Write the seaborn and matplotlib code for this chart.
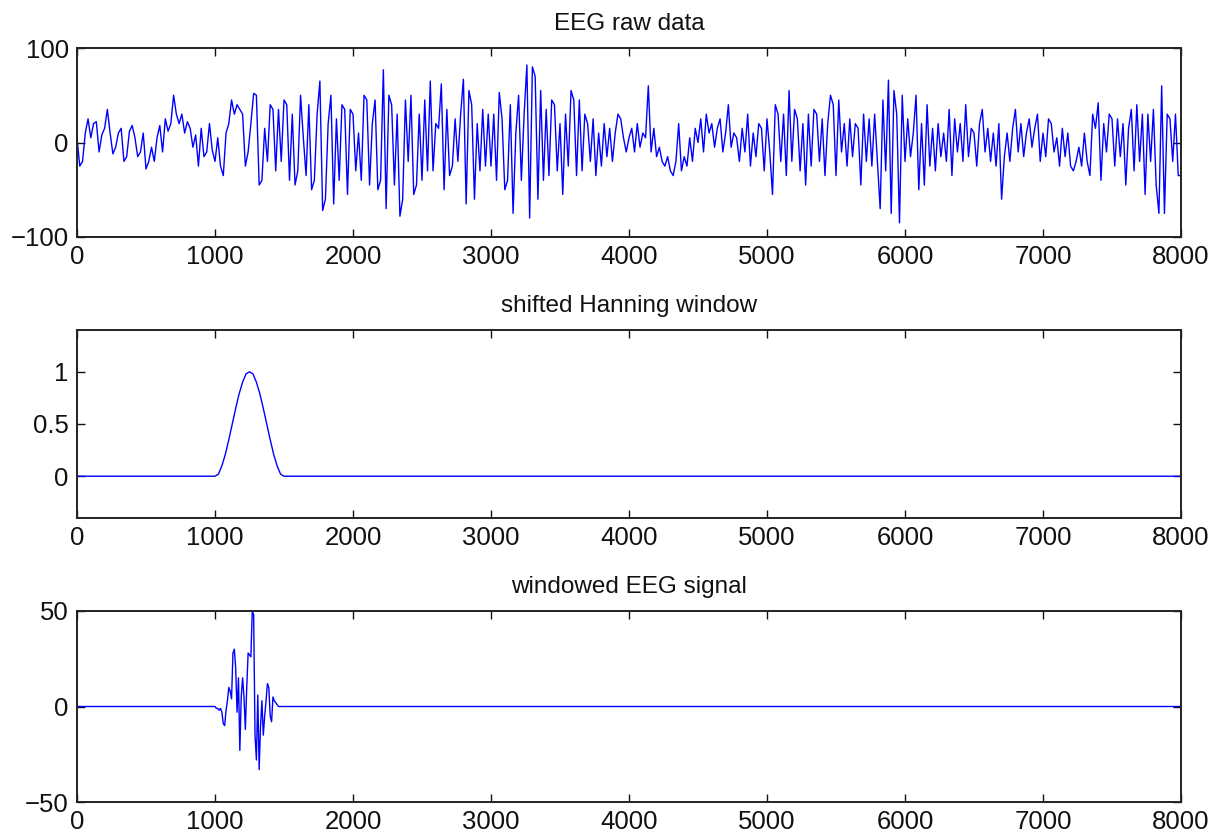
import numpy as np
import pandas as pd
import matplotlib
matplotlib.use("Agg")
import matplotlib.pyplot as plt
import seaborn as sns

# ---------------- data ----------------
EEG_STEP = 20  # samples between read values
eeg_values = [
    # 0 - 980
    5, -25, -20, 10, 25, 5, 20, 22, -10, 8,
    15, 35, 10, -12, -5, 10, 15, -20, -15, 12,
    18, 5, -15, -10, 10, -28, -20, -5, -20, 5,
    18, -10, 25, 12, 20, 50, 30, 20, 30, 10,
    22, 15, -5, 8, -25, 15, -15, -10, 20, -8,
    # 1000 - 1980
    -20, 5, -25, -35, 10, 20, 45, 30, 40, 35,
    30, -25, -10, 20, 52, 50, -45, -40, 15, -20,
    40, 35, -30, 35, -20, 45, 40, -40, 30, -45,
    -30, 50, 5, -35, 40, -50, -40, 30, 65, -72,
    -60, 20, 50, -65, 25, -40, 40, 35, -55, 35,
    # 2000 - 2980
    30, -30, 10, -40, 50, 45, -45, 20, 45, -50,
    -40, 77, -70, 50, 40, -45, 30, -78, -60, 45,
    -20, 50, -55, -45, 30, -40, 45, -30, 65, -30,
    20, 15, 62, -50, 35, -35, -25, 25, -20, 30,
    67, -65, 55, 40, -60, 20, -30, 35, -25, 30,
    # 3000 - 3980
    -25, 30, -40, 53, 25, -50, -40, 40, -75, 10,
    50, -40, 30, 82, -80, 80, 70, -60, 55, -40,
    35, -35, 45, 40, -30, 20, -55, 30, -25, 55,
    45, -35, 45, -30, 30, 20, -20, 25, -35, 10,
    -25, 20, -15, 15, -20, 10, 30, 25, 5, -10,
    # 4000 - 4980
    5, 15, -10, 20, -5, 10, 5, 60, -10, 15,
    -15, -5, -20, -25, -15, -30, -35, -20, 20, -30,
    -15, -25, 5, -20, 15, 0, 25, -10, 30, 10,
    20, -5, 15, 25, -10, 10, 40, -5, 10, 5,
    -20, 15, -10, 30, -25, 10, -15, 20, 15, -30,
    # 5000 - 5980
    25, -10, -55, 40, 30, -20, 30, -35, 55, -20,
    35, 25, -30, 20, -45, 30, -25, 35, 30, -20,
    25, -35, 20, 50, 40, -35, 45, -10, 20, -25,
    25, -15, 20, 15, -45, 30, -20, 25, -25, 30,
    -20, -70, 45, -30, 66, -75, 55, 30, -85, 50,
    # 6000 - 6980
    -20, 25, -15, 10, 50, -50, 20, -45, 40, -25,
    15, -30, 20, -15, 10, -20, 35, -35, 25, -10,
    20, -20, 40, -15, 15, 10, -25, 20, 35, -10,
    15, -20, 10, -25, 20, -60, -15, 10, -20, 15,
    35, -10, 20, -15, 10, 25, -5, 15, 30, -20,
    # 7000 - 8000
    10, -15, 25, 20, -10, 5, -25, 15, -15, 10,
    -25, -30, -20, -5, -25, 10, -20, -35, 30, 15,
    42, -40, 20, -10, 30, 25, -25, 25, -15, 20,
    -45, 15, 35, -30, 40, -20, 30, -55, 30, -20,
    35, -45, -75, 60, -75, 30, 25, -20, 30, -35,
    -35,
]
eeg_samples = list(range(0, EEG_STEP * len(eeg_values), EEG_STEP))

hann_samples = [0] + list(range(1000, 1501, 25)) + [8000]
hann_values = [0, 0, 0.02, 0.10, 0.21, 0.35, 0.50, 0.65, 0.79, 0.90, 0.98, 1.00,
               0.98, 0.90, 0.79, 0.65, 0.50, 0.35, 0.21, 0.10, 0.02, 0, 0]

win_samples = [0] + list(range(1000, 1501, 10)) + [8000]
win_values = [0,
              0, -1, -1, -2, -1, -3, -9, -10, -2, 3,
              10, 8, 4, 28, 30, 20, -3, 15, -23, 5,
              15, 5, -12, 10, 28, 27, 26, 50, 48, -15,
              -28, 6, -33, -10, 3, -15, -5, 3, 12, 10,
              -5, -8, 5, 3, 2, 1, 0, 0, 0, 0,
              0,
              0]

titles = ["EEG raw data", "shifted Hanning window", "windowed EEG signal"]
x_ticks = [0, 1000, 2000, 3000, 4000, 5000, 6000, 7000, 8000]
x_tick_labels = ["0", "1000", "2000", "3000", "4000", "5000", "6000", "7000", "8000"]
y_ticks = [[-100, 0, 100], [0, 0.5, 1], [-50, 0, 50]]
y_tick_labels = [["\u2212100", "0", "100"], ["0", "0.5", "1"], ["\u221250", "0", "50"]]
y_limits = [(-100, 100), (-0.4, 1.4), (-50, 50)]

# ---------------- figure ----------------
sns.set_style("ticks")
plt.rcParams["font.family"] = ["Liberation Sans", "DejaVu Sans"]

fig = plt.figure(figsize=(12.25, 8.36), dpi=100)
W, H = 1225, 836
boxes = [(77, 48, 1181, 237), (77, 330, 1181, 518), (77, 611, 1181, 802)]

frames = [
    pd.DataFrame({"sample": eeg_samples, "value": eeg_values}),
    pd.DataFrame({"sample": hann_samples, "value": hann_values}),
    pd.DataFrame({"sample": win_samples, "value": win_values}),
]

for i, (box, df) in enumerate(zip(boxes, frames)):
    l, t, r, b = box
    ax = fig.add_axes([l / W, 1 - b / H, (r - l) / W, (b - t) / H])
    sns.lineplot(data=df, x="sample", y="value", ax=ax, color="#0000ff",
                 linewidth=1.0, estimator=None, sort=False)
    ax.set_xlim(0, 8000)
    ax.set_ylim(*y_limits[i])
    ax.set_xticks(x_ticks)
    ax.set_xticklabels(x_tick_labels)
    ax.set_yticks(y_ticks[i])
    ax.set_yticklabels(y_tick_labels[i])
    ax.set_xlabel("")
    ax.set_ylabel("")
    ax.set_title(titles[i], fontsize=17.5, pad=13, color="#111111")
    ax.tick_params(direction="in", length=6, width=1.0, top=True, right=True,
                   labelsize=18.5, colors="#111111", pad=6)
    for sp in ax.spines.values():
        sp.set_visible(True)
        sp.set_color("#222222")
        sp.set_linewidth(1.4)

fig.savefig("out.png", dpi=100, facecolor="white")
